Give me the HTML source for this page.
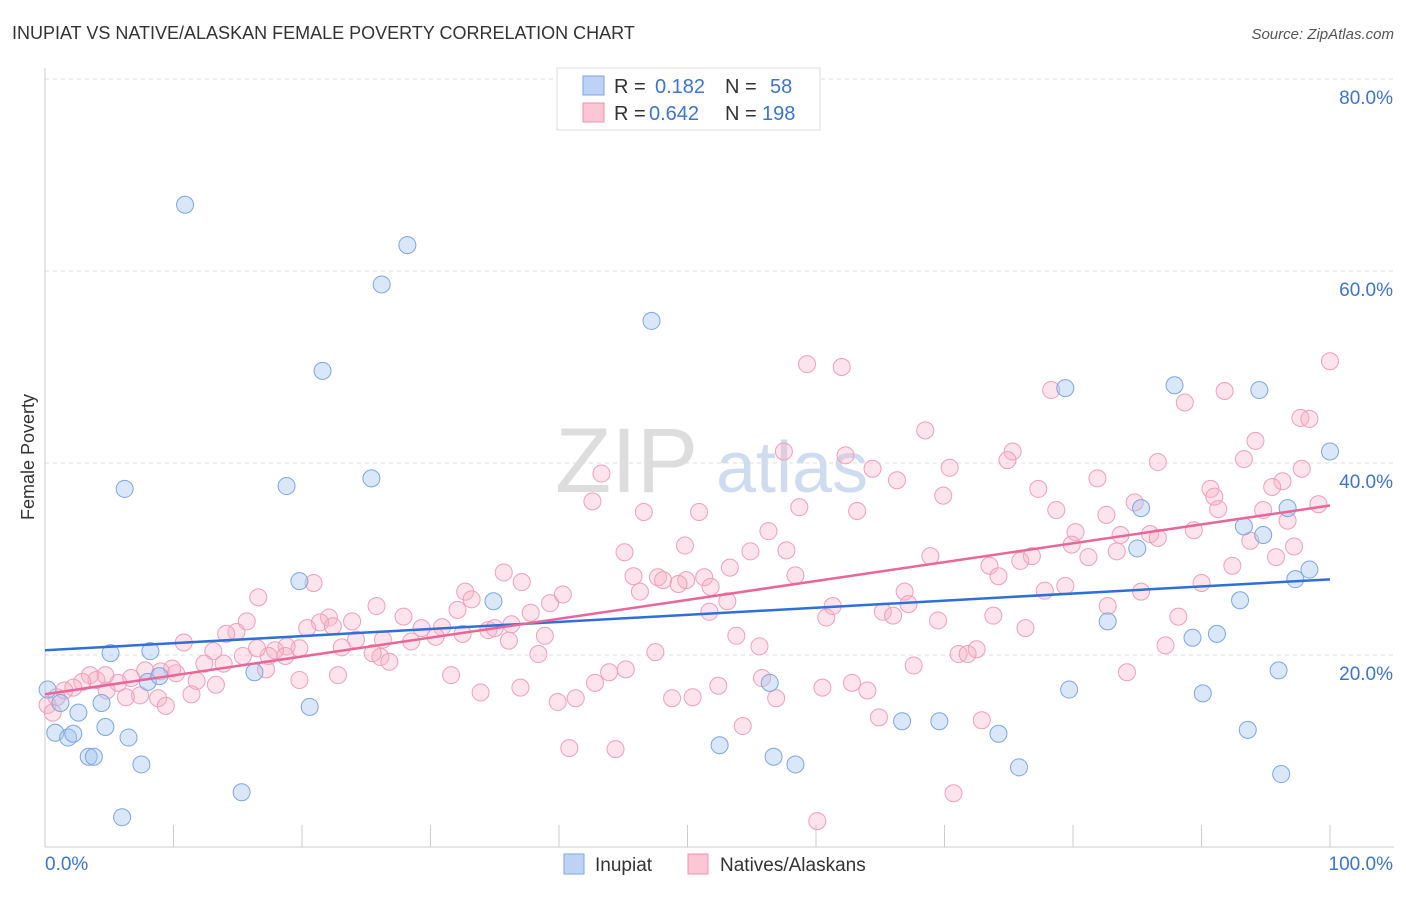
<!DOCTYPE html>
<html><head><meta charset="utf-8"><style>
body{margin:0;background:#fff;font-family:"Liberation Sans",sans-serif;}
svg text{font-family:"Liberation Sans",sans-serif;}
</style></head><body>
<svg id="c" width="1406" height="892">
<text x="12" y="39" font-size="18" fill="#333">INUPIAT VS NATIVE/ALASKAN FEMALE POVERTY CORRELATION CHART</text>
<text x="1394" y="39" font-size="15" fill="#555" font-style="italic" text-anchor="end">Source: ZipAtlas.com</text>
<text x="34" y="457" font-size="18" fill="#333" text-anchor="middle" transform="rotate(-90 34 457)">Female Poverty</text>
<text x="555" y="492" font-size="92" fill="#ddd" font-family="Liberation Serif">ZIP</text>
<text x="716" y="492" font-size="72" fill="#cfdcf0">atlas</text>
<g id="grid"></g><g id="pts"></g><g id="lines"></g>
<g>
<rect x="557" y="68" width="263" height="62" fill="#fff" stroke="#ddd"/>
<rect x="583" y="76" width="21" height="19" fill="#bcd3f5" stroke="#7ea6e0"/>
<rect x="583" y="103" width="21" height="19" fill="#fcc6d6" stroke="#ee93ae"/>
<text x="614" y="93" font-size="20" fill="#333">R = </text><text x="655" y="93" font-size="20" fill="#3b74d4">0.182</text>
<text x="725" y="93" font-size="20" fill="#333">N = </text><text x="770" y="93" font-size="20" fill="#3b74d4">58</text>
<text x="614" y="120" font-size="20" fill="#333">R = </text><text x="649" y="120" font-size="20" fill="#3b74d4">0.642</text>
<text x="725" y="120" font-size="20" fill="#333">N = </text><text x="762" y="120" font-size="20" fill="#3b74d4">198</text>
</g>
<g>
<rect x="564" y="854" width="20" height="20" fill="#bcd3f5" stroke="#7ea6e0"/>
<text x="595" y="871" font-size="19" fill="#333">Inupiat</text>
<rect x="688" y="854" width="20" height="20" fill="#fcc6d6" stroke="#ee93ae"/>
<text x="720" y="871" font-size="19" fill="#333">Natives/Alaskans</text>
</g>
</svg>
<script>
const NS="http://www.w3.org/2000/svg";
const yTicks=[20,40,60,80];
const xTickLabels=["0.0%","100.0%"];
const inupiatX=[10.9,28.2,26.2,47.2,21.6,6.2,18.8,25.4,19.8,34.9,8.2,5.1,0.2,1.2,4.4,0.8,1.8,2.2,2.6,4.7,6.5,3.4,3.8,7.5,8.0,8.9,16.3,20.6,15.3,6.0,56.4,52.5,56.7,58.4,66.7,69.6,74.2,75.8,79.7,79.4,87.9,94.5,100,85.3,93.3,96.7,94.8,85.0,82.7,93.0,98.4,97.3,89.3,91.2,90.1,96.0,93.6,96.2];
const inupiatY=[66.9,62.7,58.6,54.8,49.6,37.3,37.6,38.4,27.7,25.6,20.4,20.2,16.4,15.0,15.0,11.9,11.4,11.8,14.0,12.5,11.4,9.4,9.4,8.6,17.2,17.8,18.2,14.6,5.7,3.1,17.1,10.6,9.4,8.6,13.1,13.1,11.8,8.3,16.4,47.8,48.1,47.6,41.2,35.3,33.4,35.3,32.5,31.1,23.5,25.7,28.9,27.9,21.8,22.2,16.0,18.4,12.2,7.6];
const nativeX=[
100,59.3,62.0,91.8,78.3,88.7,97.7,98.4,68.5,94.2,
57.5,75.3,74.9,86.6,93.3,62.3,64.4,70.4,43.3,66.3,
81.9,96.3,97.8,77.3,90.7,95.5,69.9,42.6,84.8,78.7,
82.6,91.3,91.0,99.1,94.8,46.6,50.9,58.7,63.2,96.7,
56.3,80.2,86.0,83.7,86.6,89.4,49.8,45.1,54.9,57.7,
79.9,83.4,93.8,76.8,68.9,95.8,81.2,73.5,92.4,35.7,
37.1,45.8,47.7,48.1,49.9,51.3,53.3,58.4,74.2,90.0,
20.9,16.6,32.7,33.2,39.3,40.3,46.3,51.8,49.3,66.9,
77.8,79.4,97.2,75.9,15.7,14.9,14.1,10.8,22.1,21.4,
20.4,22.4,23.9,25.8,27.9,29.3,30.9,32.5,34.5,36.3,
37.8,38.9,35.0,32.1,30.4,28.5,26.3,24.2,23.1,19.8,
18.8,17.9,17.4,15.4,13.1,12.4,13.9,11.8,10.2,9.9,
9.0,7.8,6.7,5.7,4.7,4.0,3.5,2.9,2.2,1.5,
0.9,0.2,0.6,4.8,6.3,7.4,8.8,9.4,11.4,13.3,
17.2,19.8,22.8,26.1,26.8,25.5,18.7,16.5,36.1,38.4,
31.6,33.9,37.0,39.9,41.3,42.8,43.9,45.2,47.5,48.8,
50.4,52.4,53.8,55.6,55.8,56.9,60.5,62.8,64.0,64.9,
67.6,69.5,71.1,71.8,72.5,72.9,54.3,51.7,53.1,60.8,
61.3,65.2,66.0,67.2,73.8,76.3,82.7,84.2,87.2,88.2,
85.3,40.8,44.4,60.1,70.7];
const nativeY=[
50.6,50.3,50.0,47.5,47.6,46.3,44.7,44.6,43.4,42.3,
41.2,41.2,40.3,40.1,40.4,40.8,39.4,39.5,38.9,38.2,
38.4,38.1,39.4,37.3,37.3,37.5,36.6,36.0,35.9,35.1,
34.6,35.2,36.5,35.7,35.1,34.9,34.9,35.4,35.0,34.0,
32.9,32.8,32.6,32.5,32.2,33.0,31.4,30.7,30.8,30.9,
31.5,30.8,31.9,30.3,30.3,30.2,30.2,29.3,29.3,28.6,
27.6,28.2,28.1,27.8,27.8,28.1,29.1,28.3,28.2,27.5,
27.5,26.0,26.6,25.8,25.4,26.3,26.6,27.1,27.4,26.6,
26.7,27.2,31.3,29.8,23.5,22.4,22.2,21.3,23.9,23.4,
22.8,23.0,23.5,25.1,24.0,22.8,22.9,22.2,22.6,23.2,
24.4,22.0,22.8,24.7,21.9,21.4,21.6,21.6,20.8,20.7,
20.9,20.5,19.9,19.9,20.4,19.1,19.1,17.3,18.1,18.6,
18.3,18.4,17.6,17.1,17.9,17.4,17.9,17.2,16.6,16.3,
15.6,14.8,14.0,16.3,15.6,15.8,15.5,14.7,15.9,16.9,
18.5,17.4,17.9,19.8,19.3,20.2,19.9,20.7,21.5,20.1,
17.9,16.1,16.6,15.1,15.5,17.1,18.2,18.5,20.3,15.5,
15.6,16.8,22.0,20.9,17.6,15.5,16.6,17.1,16.3,13.5,
18.9,23.6,20.1,20.1,20.6,13.2,12.6,24.5,25.6,23.9,
25.1,24.5,24.1,25.3,24.1,22.8,25.1,18.2,21.0,24.0,
26.6,10.3,10.2,2.7,5.6];
const L=45,R=1330,B=847,T=79;
const xs=v=>L+v/100*(R-L), ys=v=>B-v/80*(B-T);
const g=id=>document.getElementById(id);
function mk(t,a,p){const e=document.createElementNS(NS,t);for(const k in a)e.setAttribute(k,a[k]);p.appendChild(e);return e;}
const grid=g('grid');
yTicks.forEach(v=>{
 const l=mk('line',{x1:L,x2:1394,y1:ys(v),y2:ys(v),stroke:'#ddd','stroke-dasharray':'4,4'},grid);
 
 
 const t=mk('text',{x:1393,y:ys(v)+25,'font-size':19,fill:'#3b74d4','text-anchor':'end'},grid);
 t.textContent=v.toFixed(1)+'%';
 
 
});
mk('line',{x1:L,x2:L,y1:68,y2:B,stroke:'#ccc'},grid);
mk('line',{x1:L,x2:1394,y1:B,y2:B,stroke:'#ccc'},grid);
for(let i=0;i<=10;i++){mk('line',{x1:xs(i*10),x2:xs(i*10),y1:B,y2:B-22,stroke:'#ccc'},grid);}
const t0=mk('text',{x:45,y:870,'font-size':19,fill:'#3b74d4'},grid);t0.textContent=xTickLabels[0];


const t1=mk('text',{x:1393,y:870,'font-size':19,fill:'#3b74d4','text-anchor':'end'},grid);t1.textContent=xTickLabels[1];


const pts=g('pts');
nativeX.forEach((x,i)=>{const c=mk('circle',{cx:xs(x),cy:ys(nativeY[i]),r:8.5,fill:'rgba(248,175,198,0.35)',stroke:'#eea0b8','stroke-width':1},pts);
 
 });
inupiatX.forEach((x,i)=>{const c=mk('circle',{cx:xs(x),cy:ys(inupiatY[i]),r:8.5,fill:'rgba(160,195,240,0.4)',stroke:'#7ea6e0','stroke-width':1},pts);
 
 });
function fit(X,Y){const n=Math.min(X.length,Y.length);let mx=0,my=0;for(let i=0;i<n;i++){mx+=X[i];my+=Y[i];}mx/=n;my/=n;let sxy=0,sxx=0;for(let i=0;i<n;i++){sxy+=(X[i]-mx)*(Y[i]-my);sxx+=(X[i]-mx)**2;}const b=sxy/sxx;return [my-b*mx,b];}
const lines=g('lines');
[[inupiatX,inupiatY,'#2e6fd8','inupiat-trendline'],[nativeX,nativeY,'#e8669a','native-trendline']].forEach(([X,Y,col,nm])=>{
 const [a,b]=fit(X,Y);
 const l=mk('line',{x1:xs(0),y1:ys(a),x2:xs(100),y2:ys(a+b*100),stroke:col,'stroke-width':2.5},lines);
 
 
});
</script>
</body></html>
